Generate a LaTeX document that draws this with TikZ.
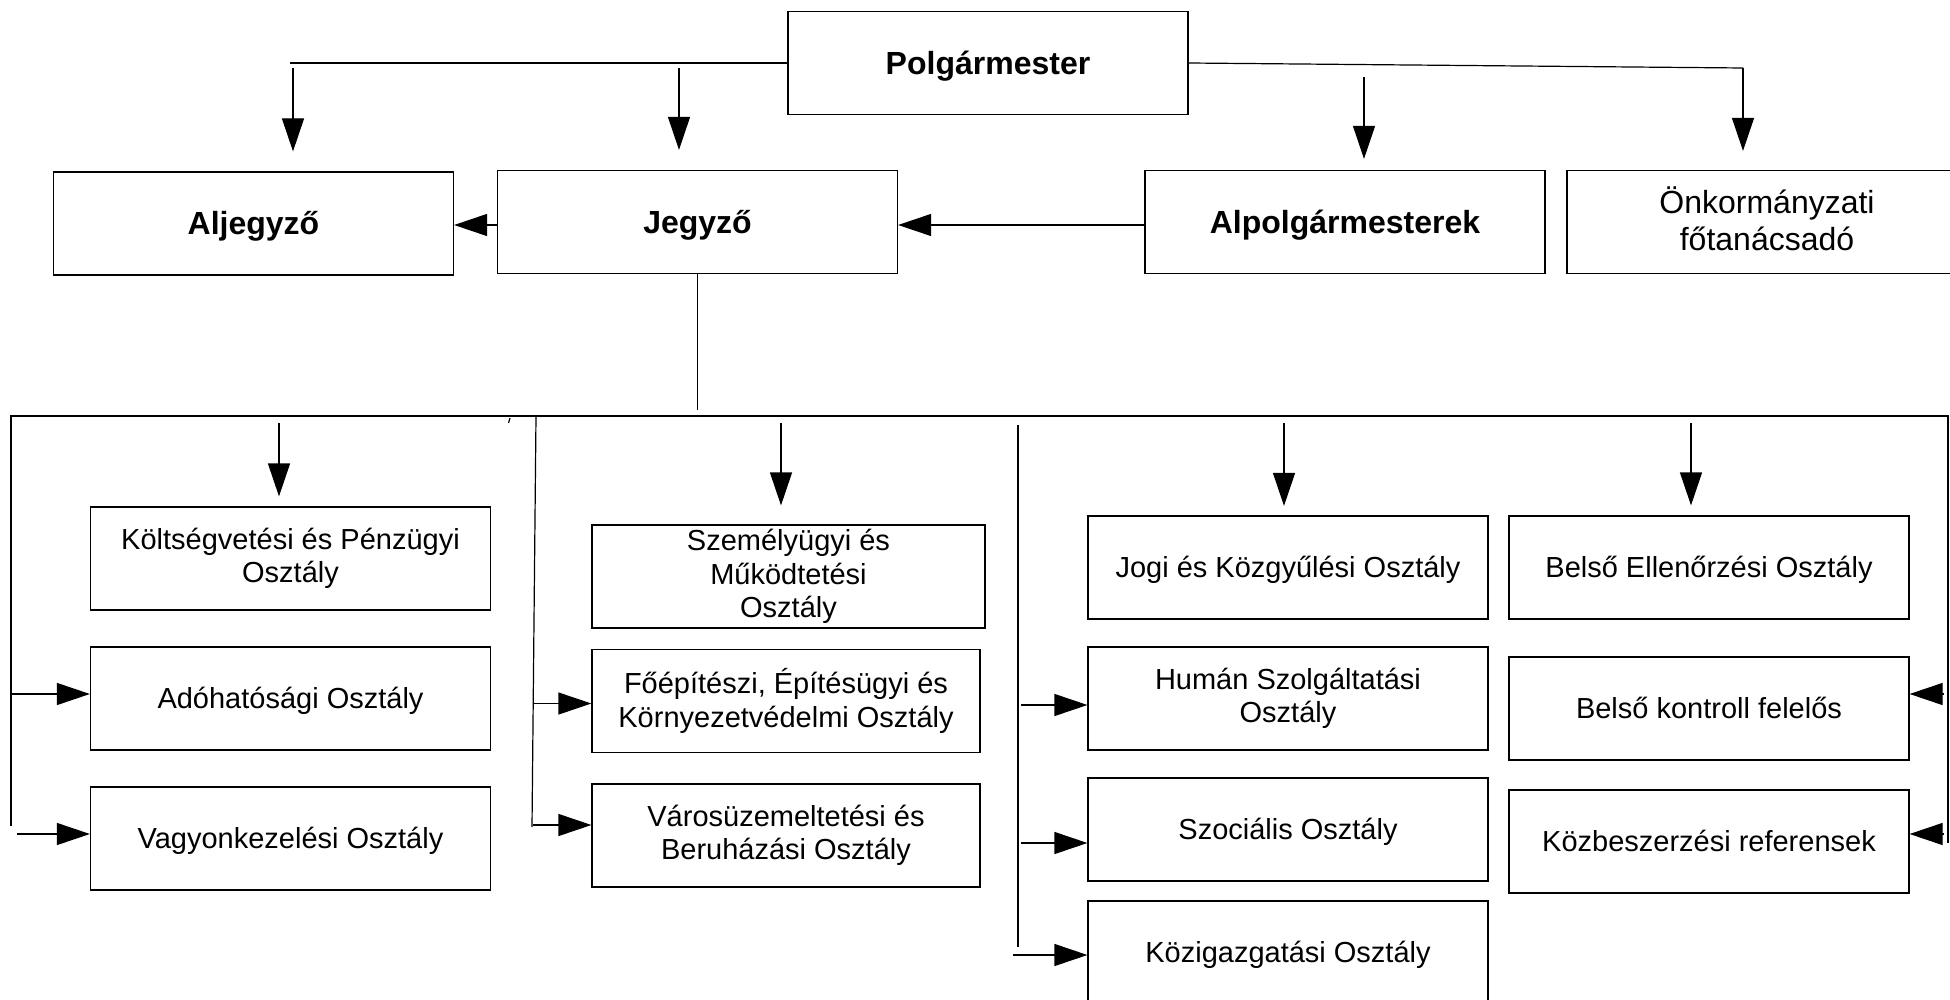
\documentclass[tikz,border=0pt]{standalone}
\usepackage{fontspec}
\setmainfont{Liberation Sans}
\usetikzlibrary{arrows.meta,calc}

\newcommand\lostrut{\rule[-0.212em]{0pt}{1.117em}}

\tikzset{
  box/.style={draw, minimum width=200pt, minimum height=51.5pt, inner sep=0pt, align=center,
    font=\fontsize{14.5}{16.8}\selectfont,
    execute at begin node=\lostrut, execute at end node=\lostrut},
  head/.style={box, font=\fontsize{16}{18.6}\selectfont\bfseries},
  arr/.style={-{Triangle[length=16.5pt,width=11pt]}},
}

\begin{document}
\begin{tikzpicture}[x=0.5pt,y=0.5pt,yscale=-1,line width=0.6pt]
\useasboundingbox (0,0) rectangle (1950,1000);
\clip (0,0) rectangle (1950,1000);

% top row
\node[head] (polg) at (988,63) {Polgármester};
\node[head] (aljegyzo) at (253.5,223.5) {Aljegyző};
\node[head] (jegyzo) at (697.5,222) {Jegyző};
\node[head] (alpolg) at (1345,222) {Alpolgármesterek};
\node[box, font=\fontsize{16}{18.6}\selectfont] (onk) at (1767,222) {Önkormányzati\\főtanácsadó};

% departments
\node[box] (kolts) at (290.5,558.5) {Költségvetési és Pénzügyi\\Osztály};
\node[box] (ado) at (290.5,698.5) {Adóhatósági Osztály};
\node[box] (vagyon) at (290.5,838.5) {Vagyonkezelési Osztály};
\node[box, minimum width=196.5pt] (szemely) at (788.5,576.5) {Személyügyi és\\Működtetési\\Osztály};
\node[box, minimum width=194pt] (foep) at (786,701) {Főépítészi, Építésügyi és\\Környezetvédelmi Osztály};
\node[box, minimum width=194pt] (varos) at (786,835.5) {Városüzemeltetési és\\Beruházási Osztály};
\node[box] (jogi) at (1288,567.5) {Jogi és Közgyűlési Osztály};
\node[box] (human) at (1288,698.5) {Humán Szolgáltatási\\Osztály};
\node[box] (szoc) at (1288,829.5) {Szociális Osztály};
\node[box] (kozig) at (1288,952.5) {Közigazgatási Osztály};
\node[box] (ellen) at (1709,567.5) {Belső Ellenőrzési Osztály};
\node[box] (kontroll) at (1709,708.5) {Belső kontroll felelős};
\node[box] (kozbesz) at (1709,841.5) {Közbeszerzési referensek};

% line ends
\coordinate (pl) at (290,63);
\coordinate (pr) at (1743,68);
\coordinate (d1) at (293,68);
\coordinate (d2) at (679,68);
\coordinate (d3) at (1364,77);
\coordinate (jb) at (697.5,410);
\coordinate (bl) at (11,416);
\coordinate (bl2) at (11,826);
\coordinate (br) at (1948,416);
\coordinate (br2) at (1948,843);
\coordinate (c2t) at (536,416);
\coordinate (c2b) at (532,827);
\coordinate (c3t) at (1018,425);
\coordinate (c3b) at (1018,947);
\coordinate (k1) at (279,423);
\coordinate (k2) at (781,423);
\coordinate (k3) at (1284,423);
\coordinate (k4) at (1691,423);

% mayor
\draw (polg.west) -- (pl);
\draw (polg.east) -- (pr);
\draw[arr, shorten >=10pt] (d1) -- (d1 |- aljegyzo.north);
\draw[arr, shorten >=10pt] (d2) -- (d2 |- jegyzo.north);
\draw[arr, shorten >=5.5pt] (d3) -- (d3 |- alpolg.north);
\draw[arr, shorten >=9.5pt] (pr) -- (pr |- onk.north);
\draw[arr] ($(jegyzo.west)+(0,3)$) -- ($(aljegyzo.east |- jegyzo.west)+(0,3)$);
\draw[arr] ($(alpolg.west)+(0,3)$) -- ($(jegyzo.east)+(0,3)$);

% notary to departments
\draw (jegyzo.south) -- (jb);
\draw (bl2) -- (bl) -- (br) -- (br2);
\draw (c2t) -- (c2b);
\draw (c3t) -- (c3b);
\draw (510,418) -- (508.5,423);

\draw[arr, shorten >=5pt] (k1) -- (k1 |- kolts.north);
\draw[arr, shorten >=9.5pt] (k2) -- (k2 |- szemely.north);
\draw[arr, shorten >=4.75pt] (k3) -- (k3 |- jogi.north);
\draw[arr, shorten >=5pt] (k4) -- (k4 |- ellen.north);

\draw[arr] ($(bl |- ado.west)+(0,-4.5)$) -- ($(ado.west)+(0,-4.5)$);
\draw[arr] ($(bl |- vagyon.west)+(6,-4.5)$) -- ($(vagyon.west)+(0,-4.5)$);
\draw[arr] ($(c2b |- foep.west)+(1,2.5)$) -- ($(foep.west)+(0,2.5)$);
\draw[arr] ($(c2b |- varos.west)+(1,-10.5)$) -- ($(varos.west)+(0,-10.5)$);
\draw[arr] ($(c3b |- human.west)+(3,6.5)$) -- ($(human.west)+(0,6.5)$);
\draw[arr] ($(c3b |- szoc.west)+(3,13.5)$) -- ($(szoc.west)+(0,13.5)$);
\draw[arr] ($(c3b |- kozig.west)+(-5,2.5)$) -- ($(kozig.west)+(0,2.5)$);
\draw[arr] ($(br |- kontroll.east)+(-4,-14.5)$) -- ($(kontroll.east)+(0,-14.5)$);
\draw[arr] ($(br |- kozbesz.east)+(-4,-7.5)$) -- ($(kozbesz.east)+(0,-7.5)$);

\end{tikzpicture}
\end{document}
